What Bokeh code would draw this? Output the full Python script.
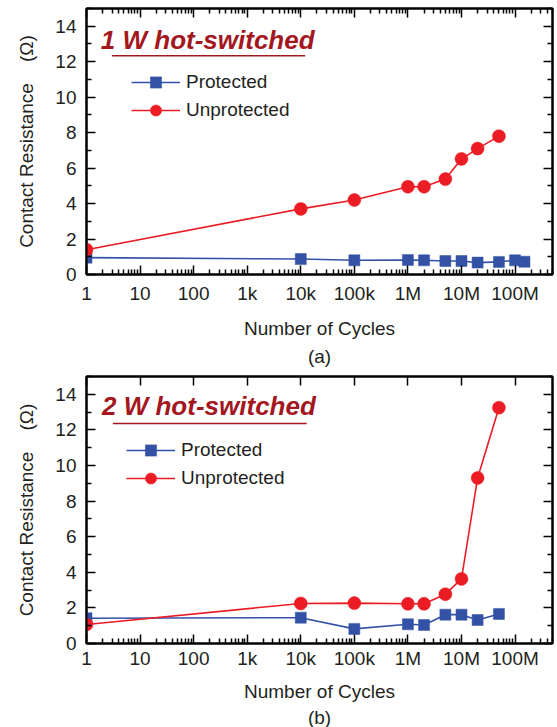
from bokeh.plotting import figure
from bokeh.models import (Range1d, LogAxis, LinearAxis, FixedTicker, Label, Title,
                          Legend, LegendItem, ColumnDataSource)
from bokeh.layouts import column
from bokeh.embed import file_html
from bokeh.resources import INLINE

# ---------------- data ----------------
x_ticks = [1, 10, 100, 1000, 10000, 100000, 1000000, 10000000, 100000000]
x_tick_labels = ["1", "10", "100", "1k", "10k", "100k", "1M", "10M", "100M"]
x_minor_mult = [2, 3, 4, 5, 6, 7, 8, 9]
y_ticks = [0, 2, 4, 6, 8, 10, 12, 14]
y_minor = [1, 3, 5, 7, 9, 11, 13, 15]

# panel (a): 1 W hot-switched
a_prot_cycles = [1, 1e4, 1e5, 1e6, 2e6, 5e6, 1e7, 2e7, 5e7, 1e8, 1.5e8]
a_prot_res = [0.95, 0.87, 0.80, 0.82, 0.80, 0.76, 0.76, 0.67, 0.71, 0.80, 0.72]
a_unprot_cycles = [1, 1e4, 1e5, 1e6, 2e6, 5e6, 1e7, 2e7, 5e7]
a_unprot_res = [1.40, 3.70, 4.20, 4.95, 4.95, 5.38, 6.52, 7.10, 7.80]

# panel (b): 2 W hot-switched
b_prot_cycles = [1, 1e4, 1e5, 1e6, 2e6, 5e6, 1e7, 2e7, 5e7]
b_prot_res = [1.42, 1.45, 0.82, 1.08, 1.04, 1.62, 1.62, 1.32, 1.66]
b_unprot_cycles = [1, 1e4, 1e5, 1e6, 2e6, 5e6, 1e7, 2e7, 5e7]
b_unprot_res = [1.07, 2.25, 2.27, 2.23, 2.23, 2.77, 3.63, 9.30, 13.25]

series_names = ["Protected", "Unprotected"]
panel_titles = ["1 W hot-switched", "2 W hot-switched"]
panel_captions = ["(a)", "(b)"]
x_label = "Number of Cycles"
y_label = "Contact Resistance\u00a0\u00a0\u00a0\u00a0(\u03a9)"

# ---------------- style ----------------
FONT = "Liberation Sans"
BLUE = "#3352a6"
RED = "#ec1c24"
DARKRED = "#a3181f"
TXT = "#231f20"

minor_x = [m * t for t in x_ticks for m in x_minor_mult]
overrides = {int(t): l for t, l in zip(x_ticks, x_tick_labels)}


def style_axis(ax, labels=True, minor=True, standoff=8):
    ax.axis_line_color = "black"
    ax.axis_line_width = 2
    ax.major_tick_line_color = "black"
    ax.major_tick_line_width = 1.5
    ax.minor_tick_line_color = "black"
    ax.minor_tick_line_width = 1.5
    ax.major_tick_in = 9
    ax.major_tick_out = 0
    ax.minor_tick_in = 5 if minor else 0
    ax.minor_tick_out = 0
    if labels:
        ax.major_label_text_font = FONT
        ax.major_label_text_font_size = "19px"
        ax.major_label_text_color = TXT
        ax.major_label_standoff = standoff
        ax.axis_label_text_font = FONT
        ax.axis_label_text_font_size = "19px"
        ax.axis_label_text_font_style = "normal"
        ax.axis_label_text_color = TXT
    else:
        ax.major_label_text_font_size = "1px"
        ax.major_label_text_alpha = 0
        ax.major_label_standoff = 0


def make_panel(prot_x, prot_y, unprot_x, unprot_y, title, caption, height,
               mb_left, mb_right, mb_top, mb_bottom, top_minor, legend_loc,
               title_xy, uline, xstand, xlabstand, capstand):
    p = figure(width=557, height=height, x_axis_type="log",
               x_range=Range1d(1, 5e8), y_range=Range1d(0, 15),
               output_backend="svg", toolbar_location=None,
               min_border_left=mb_left, min_border_right=mb_right,
               min_border_top=mb_top, min_border_bottom=mb_bottom)
    p.xgrid.visible = False
    p.ygrid.visible = False
    p.outline_line_color = "black"
    p.outline_line_width = 2
    p.background_fill_color = "white"
    p.border_fill_color = "white"

    xt = FixedTicker(ticks=x_ticks, minor_ticks=minor_x)
    yt = FixedTicker(ticks=y_ticks, minor_ticks=y_minor)

    xa = p.xaxis[0]
    xa.ticker = xt
    xa.major_label_overrides = overrides
    xa.axis_label = x_label
    style_axis(xa, True, True, xstand)
    xa.axis_label_standoff = xlabstand

    ya = p.yaxis[0]
    ya.ticker = yt
    ya.axis_label = y_label
    style_axis(ya, True, True, 10)
    ya.axis_label_standoff = 15

    top = LogAxis(ticker=xt)
    style_axis(top, False, top_minor)
    p.add_layout(top, "above")
    right = LinearAxis(ticker=yt)
    style_axis(right, False, True)
    p.add_layout(right, "right")

    s1 = ColumnDataSource(dict(x=prot_x, y=prot_y))
    s2 = ColumnDataSource(dict(x=unprot_x, y=unprot_y))
    l1 = p.line("x", "y", source=s1, line_color=BLUE, line_width=1.6)
    m1 = p.scatter("x", "y", source=s1, marker="square", size=11,
                   fill_color=BLUE, line_color=BLUE, line_width=0.5)
    l2 = p.line("x", "y", source=s2, line_color=RED, line_width=1.6)
    m2 = p.scatter("x", "y", source=s2, marker="circle", size=13,
                   fill_color=RED, line_color=RED, line_width=0.5)

    leg = Legend(items=[LegendItem(label=series_names[0], renderers=[l1, m1]),
                        LegendItem(label=series_names[1], renderers=[l2, m2])],
                 location=legend_loc, padding=0, margin=0, spacing=0,
                 glyph_width=49, glyph_height=28, label_standoff=6,
                 label_text_font=FONT, label_text_font_size="19px",
                 label_text_color=TXT, background_fill_alpha=0,
                 border_line_alpha=0)
    p.add_layout(leg)

    p.add_layout(Label(x=title_xy[0], y=title_xy[1], text=title,
                       text_font=FONT, text_font_size="26px",
                       text_font_style="bold italic", text_color=DARKRED,
                       text_baseline="alphabetic"))
    p.line(x=[uline[0], uline[1]], y=[uline[2], uline[2]],
           line_color=DARKRED, line_width=1.5)

    p.add_layout(Title(text=caption, align="center", text_font=FONT,
                       text_font_size="19px", text_font_style="normal",
                       text_color=TXT, standoff=capstand), "below")
    return p


pa = make_panel(a_prot_cycles, a_prot_res, a_unprot_cycles, a_unprot_res,
                panel_titles[0], panel_captions[0], 368,
                82, 5, 8, 91, True, (45, 150),
                (1.85, 13.25), (2.97, 12100, 12.33), 8, 11, 4)
pb = make_panel(b_prot_cycles, b_prot_res, b_unprot_cycles, b_unprot_res,
                panel_titles[1], panel_captions[1], 359,
                86, 2, 8, 82, False, (40, 151),
                (1.95, 13.35), (3.1, 12900, 12.36), 4, 9, 0)

layout = column(pa, pb, spacing=0)
open("out.html", "w").write(file_html(layout, INLINE))
